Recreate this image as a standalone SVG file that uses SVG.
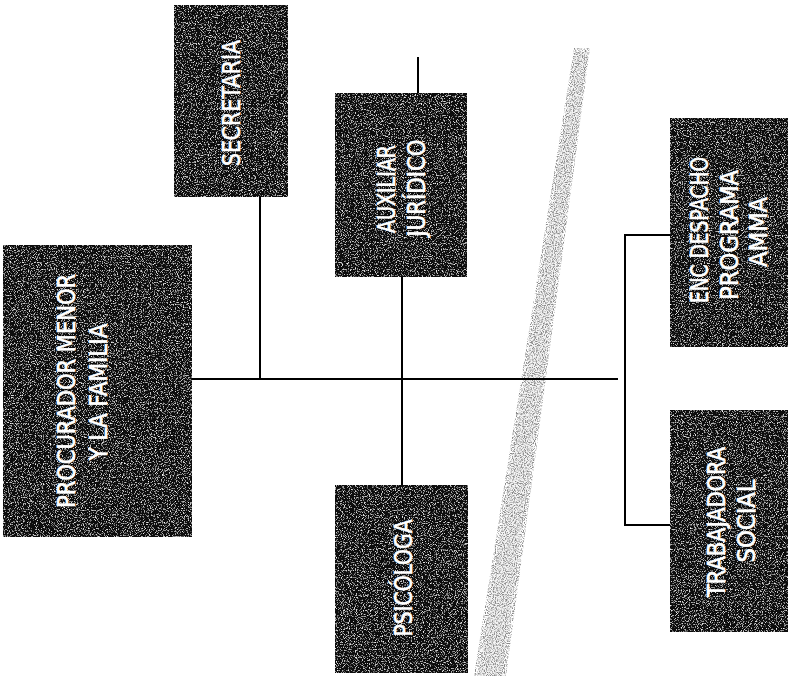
<svg xmlns="http://www.w3.org/2000/svg" width="792" height="676" viewBox="0 0 792 676">
  <style>
    .box { fill: #0d0d0d; filter: url(#grain); }
    .lbl { fill: #ffffff; stroke: #ffffff; stroke-width: 0.6; font-family: "Liberation Sans Narrow", "DejaVu Sans Condensed", "Liberation Sans", sans-serif; font-size: 24px; text-anchor: middle; }
    .conn line { stroke: #000000; stroke-width: 2; fill: none; }
  </style>
  <defs>
    <filter id="grain" x="0" y="0" width="100%" height="100%">
      <feTurbulence type="fractalNoise" baseFrequency="0.85" numOctaves="2" seed="7" result="n"/>
      <feColorMatrix in="n" type="matrix" values="0 0 0 0 1  0 0 0 0 1  0 0 0 0 1  3.4 0 0 0 -1.85" result="w"/>
      <feComposite in="w" in2="SourceGraphic" operator="atop"/>
    </filter>
    <filter id="stripeGrain" x="-20%" y="0" width="140%" height="100%">
      <feTurbulence type="fractalNoise" baseFrequency="0.9" numOctaves="2" seed="3" result="n"/>
      <feColorMatrix in="n" type="matrix" values="0 0 0 0 0.25  0 0 0 0 0.25  0 0 0 0 0.25  3.6 0 0 0 -1.55" result="d"/>
      <feComposite in="d" in2="SourceGraphic" operator="in"/>
    </filter>
  </defs>
  <rect width="792" height="676" fill="#ffffff"/>

  <!-- scan artifact stripe -->
  <polygon points="576,52 588,52 502,676 478,676" fill="#d0d0d0" opacity="0.25"/>
  <polygon points="574,48 590,48 506,676 474,676" fill="#000" filter="url(#stripeGrain)"/>

  <g id="connectors" class="conn">
    <line x1="190" y1="379" x2="618" y2="379"/>
    <line x1="260" y1="197" x2="260" y2="379"/>
    <line x1="402" y1="277" x2="402" y2="486"/>
    <line x1="418" y1="57" x2="418" y2="94"/>
    <line x1="625" y1="234" x2="625" y2="526"/>
    <line x1="624" y1="235" x2="671" y2="235"/>
    <line x1="624" y1="525" x2="671" y2="525"/>
  </g>

  <g id="procurador">
    <rect class="box" x="3" y="245" width="189" height="292"/>
    <text class="lbl" transform="translate(75,391) rotate(-90)" textLength="234" lengthAdjust="spacingAndGlyphs">PROCURADOR MENOR</text>
    <text class="lbl" transform="translate(107,392) rotate(-90)" textLength="137" lengthAdjust="spacingAndGlyphs">Y LA FAMILIA</text>
  </g>

  <g id="secretaria">
    <rect class="box" x="174" y="5" width="114" height="192"/>
    <text class="lbl" transform="translate(240,103) rotate(-90)" textLength="126" lengthAdjust="spacingAndGlyphs">SECRETARIA</text>
  </g>

  <g id="auxiliar">
    <rect class="box" x="335" y="93" width="132" height="184"/>
    <text class="lbl" transform="translate(395,189) rotate(-90)" textLength="88" lengthAdjust="spacingAndGlyphs">AUXILIAR</text>
    <text class="lbl" transform="translate(425,188) rotate(-90)" textLength="97" lengthAdjust="spacingAndGlyphs">JURÍDICO</text>
  </g>

  <g id="psicologa">
    <rect class="box" x="335" y="485" width="133" height="188"/>
    <text class="lbl" transform="translate(412,578) rotate(-90)" textLength="117" lengthAdjust="spacingAndGlyphs">PSICÓLOGA</text>
  </g>

  <g id="enc-despacho">
    <rect class="box" x="670" y="118" width="118" height="229"/>
    <text class="lbl" transform="translate(708,230) rotate(-90)" textLength="146" lengthAdjust="spacingAndGlyphs">ENC DESPACHO</text>
    <text class="lbl" transform="translate(738,235) rotate(-90)" textLength="130" lengthAdjust="spacingAndGlyphs">PROGRAMA</text>
    <text class="lbl" transform="translate(767,232) rotate(-90)" textLength="70" lengthAdjust="spacingAndGlyphs">AMMA</text>
  </g>

  <g id="trabajadora">
    <rect class="box" x="670" y="410" width="118" height="222"/>
    <text class="lbl" transform="translate(725,522) rotate(-90)" textLength="150" lengthAdjust="spacingAndGlyphs">TRABAJADORA</text>
    <text class="lbl" transform="translate(755,521) rotate(-90)" textLength="83" lengthAdjust="spacingAndGlyphs">SOCIAL</text>
  </g>
</svg>
